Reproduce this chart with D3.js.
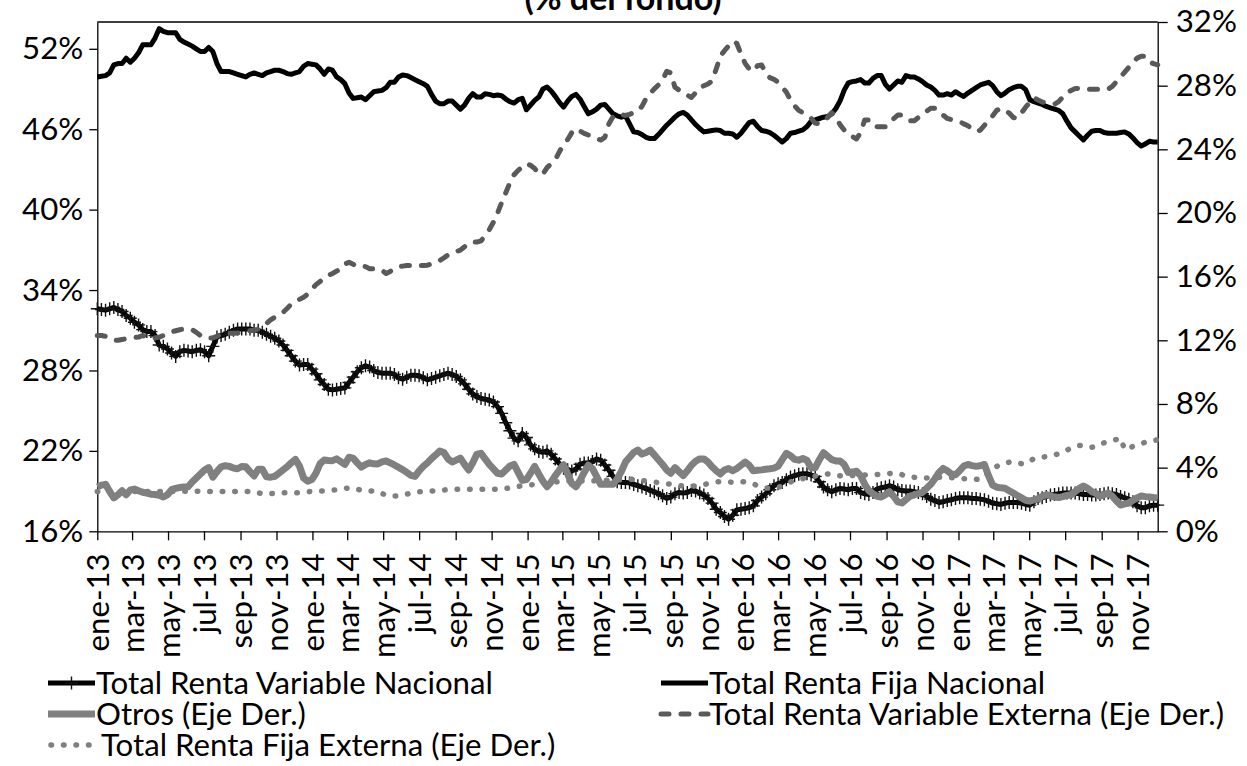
<!DOCTYPE html>
<html>
<head>
<meta charset="utf-8">
<script src="https://cdn.jsdelivr.net/npm/d3@7"></script>
<style>
  html, body { margin: 0; padding: 0; background: #fff; }
  svg { display: block; font-family: Lato, "Open Sans", sans-serif; }
</style>
</head>
<body>
<svg id="chart" width="1247" height="766"></svg>
<script>
// Weekly observations, first week of January 2013 onwards
const startDate = new Date(2013, 0, 4);

const tickLabels = [
  "ene-13","mar-13","may-13","jul-13","sep-13","nov-13",
  "ene-14","mar-14","may-14","jul-14","sep-14","nov-14",
  "ene-15","mar-15","may-15","jul-15","sep-15","nov-15",
  "ene-16","mar-16","may-16","jul-16","sep-16","nov-16",
  "ene-17","mar-17","may-17","jul-17","sep-17","nov-17"
];

const leftTicks = [16, 22, 28, 34, 40, 46, 52];
const rightTicks = [0, 4, 8, 12, 16, 20, 24, 28, 32];

// Total Renta Variable Nacional (% del fondo, eje izquierdo)
const rentaVariableNacional = [
  32.6, 32.55, 32.5, 32.6, 32.7, 32.55, 32.4, 32.1, 31.9, 31.6,
  31.4, 31.05, 30.9, 30.9, 30.6, 29.9, 29.8, 29.6, 29.3, 29.05,
  29.4, 29.5, 29.45, 29.4, 29.5, 29.55, 29.4, 29.1, 29.8, 30.5,
  30.6, 30.7, 30.85, 31.0, 31.1, 31.1, 31.1, 31.1, 31.0, 31.0,
  30.85, 30.7, 30.55, 30.4, 30.2, 29.9, 29.5, 29.1, 28.7, 28.4,
  28.45, 28.45, 28.1, 27.75, 27.3, 26.95, 26.6, 26.55, 26.6, 26.65,
  26.7, 27.1, 27.5, 27.9, 28.2, 28.35, 28.25, 28.0, 27.85, 27.8,
  27.8, 27.8, 27.7, 27.45, 27.35, 27.5, 27.65, 27.65, 27.6, 27.45,
  27.3, 27.4, 27.5, 27.6, 27.7, 27.8, 27.7, 27.55, 27.3, 27.0,
  26.6, 26.25, 26.05, 25.9, 25.85, 25.8, 25.65, 25.3, 24.8, 24.1,
  23.5, 22.95, 22.75, 23.3, 23.0, 22.45, 22.15, 21.95, 21.9, 22.0,
  21.75, 21.4, 21.05, 20.7, 20.6, 20.5, 20.65, 21.0, 21.1, 21.1,
  21.2, 21.4, 21.3, 20.95, 20.55, 20.1, 19.7, 19.65, 19.65, 19.6,
  19.5, 19.4, 19.3, 19.2, 19.05, 18.95, 18.8, 18.65, 18.45, 18.55,
  18.8, 18.9, 18.85, 18.9, 19.05, 19.0, 18.85, 18.7, 18.45, 18.1,
  17.65, 17.4, 17.1, 16.9, 17.2, 17.6, 17.65, 17.7, 17.75, 17.9,
  18.3, 18.55, 18.8, 19.1, 19.4, 19.55, 19.65, 19.85, 20.05, 20.15,
  20.25, 20.3, 20.3, 20.2, 20.1, 19.7, 19.3, 19.1, 18.95, 19.1,
  19.2, 19.15, 19.1, 19.2, 19.2, 18.9, 18.8, 18.75, 18.9, 19.15,
  19.25, 19.3, 19.4, 19.3, 19.1, 19.05, 19.0, 19.0, 18.95, 18.9,
  18.8, 18.6, 18.4, 18.3, 18.15, 18.2, 18.3, 18.35, 18.45, 18.5,
  18.5, 18.5, 18.45, 18.45, 18.4, 18.35, 18.25, 18.1, 18.05, 18.0,
  18.1, 18.15, 18.15, 18.15, 18.1, 18.0, 17.95, 18.2, 18.45, 18.5,
  18.6, 18.7, 18.75, 18.8, 18.85, 18.85, 18.85, 18.85, 18.8, 18.75,
  18.75, 18.7, 18.7, 18.75, 18.8, 18.85, 18.8, 18.75, 18.6, 18.5,
  18.4, 18.2, 17.9, 17.75, 17.75, 17.9, 17.95, 17.95
];

// Total Renta Fija Nacional (% del fondo, eje izquierdo)
const rentaFijaNacional = [
  49.9, 49.95, 50.0, 50.2, 50.8, 50.9, 50.9, 51.3, 51.0, 51.3,
  51.7, 52.3, 52.3, 52.3, 52.8, 53.5, 53.3, 53.2, 53.2, 53.2,
  52.7, 52.5, 52.35, 52.2, 52.0, 51.8, 51.8, 52.1, 51.8, 50.9,
  50.3, 50.3, 50.3, 50.2, 50.1, 50.0, 49.9, 50.1, 50.2, 50.1,
  50.0, 50.2, 50.3, 50.4, 50.4, 50.3, 50.15, 50.1, 50.2, 50.3,
  50.7, 50.9, 50.85, 50.8, 50.5, 50.1, 50.5, 50.4, 49.9, 49.7,
  49.4, 48.7, 48.3, 48.35, 48.4, 48.2, 48.5, 48.8, 48.85, 48.9,
  49.1, 49.5, 49.5, 49.9, 50.05, 50.0, 49.85, 49.7, 49.55, 49.4,
  49.2, 48.6, 48.1, 47.9, 47.9, 48.1, 48.1, 47.8, 47.5, 47.8,
  48.3, 48.65, 48.4, 48.4, 48.65, 48.6, 48.5, 48.55, 48.5, 48.25,
  48.05, 47.95, 48.2, 48.3, 47.45, 47.8, 48.15, 48.4, 49.0, 49.15,
  48.85, 48.45, 48.0, 47.65, 48.1, 48.45, 48.6, 48.25, 47.7, 47.15,
  47.3, 47.5, 47.8, 47.85, 47.5, 47.15, 47.0, 46.9, 47.0, 46.4,
  45.8, 45.75, 45.6, 45.4, 45.3, 45.3, 45.6, 45.95, 46.3, 46.6,
  46.9, 47.15, 47.25, 47.05, 46.7, 46.35, 46.05, 45.8, 45.85, 45.9,
  45.95, 45.9, 45.7, 45.7, 45.65, 45.4, 45.7, 46.1, 46.5, 46.6,
  46.2, 45.9, 45.85, 45.75, 45.55, 45.3, 45.05, 45.3, 45.7, 45.75,
  45.85, 45.95, 46.2, 46.6, 46.7, 46.8, 46.9, 46.95, 47.15, 47.55,
  48.1, 48.9, 49.45, 49.55, 49.6, 49.7, 49.45, 49.45, 49.8, 50.0,
  50.0, 49.35, 49.0, 49.3, 49.6, 49.5, 50.0, 49.9, 49.9, 49.75,
  49.55, 49.3, 49.15, 48.9, 48.55, 48.55, 48.65, 48.55, 48.8, 48.6,
  48.45, 48.7, 48.9, 49.1, 49.3, 49.4, 49.5, 49.25, 48.8, 48.5,
  48.7, 48.95, 49.1, 49.2, 49.2, 48.95, 48.2, 48.05, 47.95, 47.85,
  47.7, 47.6, 47.5, 47.4, 47.15, 46.6, 46.1, 45.8, 45.5, 45.2,
  45.55, 45.85, 45.9, 45.9, 45.75, 45.7, 45.7, 45.7, 45.75, 45.8,
  45.65, 45.35, 45.0, 44.75, 44.9, 45.1, 45.05, 45.05
];

// Otros (% del fondo, eje derecho)
const otros = [
  2.8, 2.9, 2.95, 2.5, 2.1, 2.3, 2.55, 2.3, 2.6, 2.65,
  2.55, 2.45, 2.4, 2.33, 2.31, 2.27, 2.15, 2.3, 2.62, 2.7,
  2.75, 2.79, 2.8, 3.1, 3.35, 3.6, 3.85, 4.0, 3.4, 3.75,
  4.05, 4.12, 4.08, 3.98, 3.93, 4.07, 4.05, 3.75, 3.48, 3.9,
  3.9, 3.42, 3.4, 3.45, 3.65, 3.85, 4.05, 4.3, 4.52, 4.1,
  3.35, 3.15, 3.25, 3.65, 4.25, 4.48, 4.45, 4.44, 4.55, 4.38,
  4.2, 4.65, 4.6, 4.3, 4.03, 4.2, 4.3, 4.24, 4.23, 4.36,
  4.42, 4.3, 4.17, 4.02, 3.88, 3.7, 3.52, 3.45, 3.8, 4.08,
  4.3, 4.57, 4.8, 5.05, 4.95, 4.55, 4.35, 4.47, 4.6, 4.2,
  3.85, 4.3, 4.85, 4.9, 4.55, 4.2, 3.92, 3.65, 3.6, 3.85,
  4.1, 4.2, 3.7, 3.2, 3.25, 3.65, 4.08, 3.6, 3.15, 2.8,
  3.1, 3.5, 3.85, 4.18, 3.6, 3.0, 2.8, 3.2, 3.7, 4.15,
  3.95, 3.45, 2.95, 2.95, 2.95, 2.95, 3.3, 3.75, 4.35, 4.65,
  4.95, 5.1, 4.85, 4.95, 5.1, 4.8, 4.5, 4.2, 3.85, 3.65,
  4.0, 3.75, 3.5, 3.8, 4.15, 4.4, 4.55, 4.55, 4.35, 4.05,
  3.8, 3.6, 3.85, 3.95, 3.8, 3.95, 4.15, 4.35, 4.15, 3.8,
  3.83, 3.86, 3.9, 3.93, 3.97, 4.1, 4.5, 4.9, 4.75, 4.52,
  4.47, 4.58, 4.45, 4.0, 4.0, 4.5, 4.94, 4.72, 4.5, 4.42,
  4.42, 4.2, 3.7, 3.72, 3.77, 3.5, 2.95, 2.55, 2.37, 2.2,
  2.15, 2.3, 2.48, 2.2, 1.85, 1.78, 2.0, 2.2, 2.3, 2.37,
  2.45, 2.7, 2.95, 3.3, 3.7, 3.95, 3.8, 3.6, 3.55, 3.8,
  4.1, 4.2, 4.13, 4.08, 4.12, 4.2, 3.5, 2.9, 2.77, 2.73,
  2.7, 2.55, 2.4, 2.25, 2.1, 1.95, 1.9, 1.97, 2.05, 2.2,
  2.3, 2.22, 2.15, 2.12, 2.18, 2.25, 2.3, 2.5, 2.7, 2.85,
  2.7, 2.5, 2.38, 2.2, 2.3, 2.4, 2.2, 1.9, 1.65, 1.72,
  1.78, 1.95, 2.1, 2.22, 2.18, 2.15, 2.12, 2.1
];

// Total Renta Variable Externa (% del fondo, eje derecho)
const rentaVariableExterna = [
  12.3, 12.3, 12.25, 12.15, 12.0, 12.0, 12.05, 12.1, 12.15, 12.18,
  12.2, 12.3, 12.2, 12.1, 12.15, 12.2, 12.3, 12.45, 12.53, 12.6,
  12.66, 12.72, 12.7, 12.67, 12.5, 12.3, 12.15, 12.15, 12.15, 12.25,
  12.38, 12.45, 12.45, 12.45, 12.46, 12.5, 12.54, 12.6, 12.63, 12.7,
  12.83, 13.05, 13.28, 13.45, 13.57, 13.75, 14.0, 14.27, 14.45, 14.57,
  14.7, 14.9, 15.2, 15.5, 15.7, 15.9, 16.08, 16.2, 16.35, 16.47,
  16.8, 16.9, 16.78, 16.63, 16.66, 16.63, 16.5, 16.5, 16.5, 16.4,
  16.2, 16.33, 16.5, 16.62, 16.66, 16.7, 16.7, 16.7, 16.7, 16.7,
  16.72, 16.8, 16.92, 17.02, 17.18, 17.36, 17.48, 17.57, 17.67, 17.88,
  18.1, 18.17, 18.17, 18.25, 18.57, 18.95, 19.42, 20.0, 20.65, 21.27,
  21.9, 22.4, 22.68, 22.9, 23.1, 23.0, 22.8, 22.45, 22.45, 22.85,
  23.1, 23.35, 23.85, 24.3, 24.62, 25.05, 25.3, 25.15, 25.0, 24.9,
  24.82, 24.7, 24.58, 24.75, 25.6, 26.05, 26.2, 26.17, 26.13, 26.2,
  26.3, 26.42, 26.7, 27.2, 27.5, 27.8, 28.05, 28.35, 28.9, 28.8,
  27.9, 27.72, 27.52, 27.4, 27.26, 27.55, 27.88, 27.99, 28.1, 28.3,
  29.05, 29.85, 30.2, 30.5, 30.8, 30.65, 30.0, 29.4, 29.05, 28.9,
  29.25, 29.3, 28.8, 28.5, 28.4, 28.22, 27.9, 27.6, 27.1, 26.73,
  26.45, 26.3, 26.15, 25.95, 25.65, 25.6, 25.8, 26.0, 26.3, 26.05,
  25.55, 25.22, 24.95, 24.8, 24.65, 25.05, 25.85, 25.85, 25.5, 25.42,
  25.42, 25.42, 25.7, 25.93, 26.15, 26.15, 25.95, 25.8, 25.8, 26.0,
  26.15, 26.4, 26.58, 26.58, 26.45, 26.15, 25.94, 25.87, 25.8, 25.74,
  25.6, 25.48, 25.3, 25.12, 25.2, 25.5, 25.8, 26.1, 26.45, 26.57,
  26.43, 26.28, 26.0, 25.95, 26.3, 26.65, 26.95, 27.24, 27.1, 26.97,
  26.94, 26.9, 26.84, 27.0, 27.28, 27.56, 27.7, 27.82, 27.83, 27.8,
  27.78, 27.78, 27.78, 27.78, 27.78, 27.78, 27.95, 28.25, 28.55, 28.85,
  29.15, 29.45, 29.73, 29.85, 29.85, 29.5, 29.38, 29.3
];

// Total Renta Fija Externa (% del fondo, eje derecho)
const rentaFijaExterna = [
  2.5, 2.5, 2.5, 2.5, 2.5, 2.5, 2.5, 2.5, 2.5, 2.5,
  2.5, 2.5, 2.5, 2.5, 2.5, 2.5, 2.5, 2.5, 2.5, 2.5,
  2.5, 2.52, 2.53, 2.53, 2.52, 2.51, 2.5, 2.5, 2.5, 2.5,
  2.5, 2.5, 2.5, 2.5, 2.5, 2.5, 2.5, 2.5, 2.5, 2.42,
  2.36, 2.32, 2.36, 2.39, 2.43, 2.43, 2.43, 2.43, 2.43, 2.43,
  2.45, 2.48, 2.51, 2.53, 2.53, 2.53, 2.54, 2.58, 2.62, 2.65,
  2.69, 2.72, 2.72, 2.65, 2.57, 2.53, 2.53, 2.53, 2.5, 2.38,
  2.26, 2.22, 2.22, 2.22, 2.26, 2.33, 2.4, 2.45, 2.48, 2.52,
  2.53, 2.53, 2.53, 2.55, 2.59, 2.63, 2.64, 2.64, 2.64, 2.64,
  2.64, 2.64, 2.64, 2.64, 2.64, 2.64, 2.64, 2.64, 2.65, 2.69,
  2.72, 2.75, 2.81, 2.87, 2.9, 2.92, 2.94, 2.95, 2.99, 3.02,
  3.06, 3.09, 3.13, 3.16, 3.16, 3.16, 3.16, 3.16, 3.16, 3.16,
  3.17, 3.18, 3.19, 3.2, 3.21, 3.22, 3.23, 3.24, 3.25, 3.26,
  3.27, 3.24, 3.2, 3.16, 3.13, 3.09, 3.06, 3.03, 2.99, 2.96,
  2.92, 2.88, 2.85, 2.85, 2.85, 2.85, 2.89, 2.94, 2.99, 3.04,
  3.09, 3.13, 3.12, 3.1, 3.08, 3.1, 3.12, 3.12, 3.04, 2.97,
  2.88, 2.8, 2.72, 2.71, 2.74, 2.77, 2.83, 2.96, 3.1, 3.19,
  3.26, 3.31, 3.36, 3.42, 3.47, 3.52, 3.56, 3.6, 3.55, 3.49,
  3.49, 3.5, 3.5, 3.51, 3.52, 3.53, 3.54, 3.55, 3.56, 3.57,
  3.58, 3.6, 3.63, 3.66, 3.64, 3.56, 3.48, 3.42, 3.39, 3.35,
  3.34, 3.35, 3.37, 3.38, 3.4, 3.41, 3.39, 3.37, 3.35, 3.33,
  3.31, 3.29, 3.28, 3.27, 3.26, 3.45, 3.72, 3.91, 4.08, 4.23,
  4.29, 4.34, 4.37, 4.31, 4.25, 4.25, 4.41, 4.56, 4.64, 4.66,
  4.69, 4.73, 4.8, 4.87, 4.97, 5.1, 5.22, 5.31, 5.39, 5.39,
  5.34, 5.28, 5.32, 5.44, 5.56, 5.63, 5.7, 5.77, 5.85, 5.13,
  5.24, 5.33, 5.41, 5.5, 5.6, 5.65, 5.7, 5.75
];

const seriesNames = [
  "Total Renta Variable Nacional",
  "Total Renta Fija Nacional",
  "Otros (Eje Der.)",
  "Total Renta Variable Externa (Eje Der.)",
  "Total Renta Fija Externa (Eje Der.)"
];

// ---------------------------------------------------------------------------
const svg = d3.select("#chart");
const FONT = 31.2;

const plot = { left: 97.3, right: 1157.7, top: 22, bottom: 531.3 };

const dates = rentaFijaNacional.map((_, i) => d3.timeDay.offset(startDate, 7 * i));
const tickDates = tickLabels.map((_, i) => d3.timeMonth.offset(startDate, 2 * i));

const x = d3.scaleTime().domain(d3.extent(dates)).range([plot.left, plot.right]);
const yL = d3.scaleLinear().domain([16, 54]).range([plot.bottom, plot.top]);
const yR = d3.scaleLinear().domain([0, 32]).range([plot.bottom, plot.top]);

// Title (its upper part runs past the top edge of the canvas)
svg.append("text")
  .attr("x", 623).attr("y", 10)
  .attr("text-anchor", "middle")
  .attr("font-size", 34).attr("font-weight", 700)
  .text("(% del fondo)");

// Plot frame top edge
svg.append("line")
  .attr("x1", plot.left).attr("x2", plot.right)
  .attr("y1", plot.top).attr("y2", plot.top)
  .attr("stroke", "#000").attr("stroke-width", 1.3);

function styleAxis(g) {
  g.select(".domain").attr("stroke", "#000").attr("stroke-width", 1.3);
  g.selectAll(".tick line").attr("stroke", "#000").attr("stroke-width", 1.3);
  g.selectAll(".tick text").attr("fill", "#000").attr("font-size", FONT)
    .attr("font-family", "Lato, 'Open Sans', sans-serif");
}

// Left axis
svg.append("g")
  .attr("transform", `translate(${plot.left},0)`)
  .call(d3.axisLeft(yL).tickValues(leftTicks).tickSize(8).tickPadding(6)
    .tickSizeOuter(0).tickFormat(d => d + "%"))
  .call(styleAxis);

// Right axis
svg.append("g")
  .attr("transform", `translate(${plot.right},0)`)
  .call(d3.axisRight(yR).tickValues(rightTicks).tickSize(10).tickPadding(8)
    .tickSizeOuter(0).tickFormat(d => d + "%"))
  .call(styleAxis);

// Bottom axis with rotated month labels
const xAxis = svg.append("g")
  .attr("transform", `translate(0,${plot.bottom})`)
  .call(d3.axisBottom(x).tickValues(tickDates).tickSize(9).tickSizeOuter(0)
    .tickFormat((d, i) => tickLabels[i]))
  .call(styleAxis);
xAxis.selectAll(".tick text")
  .attr("transform", "rotate(-90)")
  .attr("text-anchor", "end")
  .attr("x", -22).attr("y", 0).attr("dy", "0.36em");

// Series
const lineL = d3.line().x((d, i) => x(dates[i])).y(d => yL(d));
const lineR = d3.line().x((d, i) => x(dates[i])).y(d => yR(d));
const plusPath = "M-6.5,0H6.5M0,-6.5V6.5";

const gSeries = svg.append("g").attr("fill", "none")
  .attr("stroke-linejoin", "round");

// Total Renta Variable Nacional: thick black line with "+" markers
gSeries.append("path").datum(rentaVariableNacional)
  .attr("d", lineL).attr("stroke", "#000").attr("stroke-width", 5);
gSeries.append("g").selectAll("path").data(rentaVariableNacional).join("path")
  .attr("transform", (d, i) => `translate(${x(dates[i])},${yL(d)})`)
  .attr("d", plusPath).attr("stroke", "#111").attr("stroke-width", 1.4);

// Total Renta Fija Nacional
gSeries.append("path").datum(rentaFijaNacional)
  .attr("d", lineL).attr("stroke", "#000").attr("stroke-width", 5);

// Otros (eje derecho)
gSeries.append("path").datum(otros)
  .attr("d", lineR).attr("stroke", "#808080").attr("stroke-width", 7);

// Total Renta Variable Externa (eje derecho), dashed
gSeries.append("path").datum(rentaVariableExterna)
  .attr("d", lineR).attr("stroke", "#595959").attr("stroke-width", 5)
  .attr("stroke-linecap", "round").attr("stroke-dasharray", "8 12");

// Total Renta Fija Externa (eje derecho), round dots
gSeries.append("path").datum(rentaFijaExterna)
  .attr("d", lineR).attr("stroke", "#808080").attr("stroke-width", 5.5)
  .attr("stroke-linecap", "round").attr("stroke-dasharray", "0.5 12");

// Legend
const legendItems = [
  { name: seriesNames[0], col: 0, row: 0 },
  { name: seriesNames[1], col: 1, row: 0 },
  { name: seriesNames[2], col: 0, row: 1 },
  { name: seriesNames[3], col: 1, row: 1 },
  { name: seriesNames[4], col: 0, row: 2 }
];
const legendX = [48, 661], legendY = [683, 714, 745], swatchW = 47;

const gLegend = svg.append("g");
legendItems.forEach((item, k) => {
  const x0 = legendX[item.col], yc = legendY[item.row];
  const g = gLegend.append("g").attr("transform", `translate(${x0},${yc})`);
  const sw = g.append("line").attr("x1", 0).attr("x2", swatchW).attr("y1", 0).attr("y2", 0)
    .attr("fill", "none");
  let textX = swatchW + 1;
  if (k === 0) {
    sw.attr("stroke", "#000").attr("stroke-width", 5);
    g.append("path").attr("d", plusPath).attr("transform", `translate(${swatchW / 2},0)`)
      .attr("stroke", "#111").attr("stroke-width", 1.4);
  } else if (k === 1) {
    sw.attr("stroke", "#000").attr("stroke-width", 5);
  } else if (k === 2) {
    sw.attr("stroke", "#808080").attr("stroke-width", 7);
  } else if (k === 3) {
    sw.attr("stroke", "#595959").attr("stroke-width", 5)
      .attr("stroke-linecap", "round").attr("stroke-dasharray", "8 12");
  } else {
    sw.attr("x1", 3).attr("stroke", "#808080").attr("stroke-width", 5.5)
      .attr("stroke-linecap", "round").attr("stroke-dasharray", "0.5 12");
    textX = swatchW + 6;
  }
  g.append("text").attr("x", textX).attr("y", 0).attr("dy", "0.36em")
    .attr("font-size", FONT).attr("fill", "#000").text(item.name);
});
</script>
</body>
</html>
